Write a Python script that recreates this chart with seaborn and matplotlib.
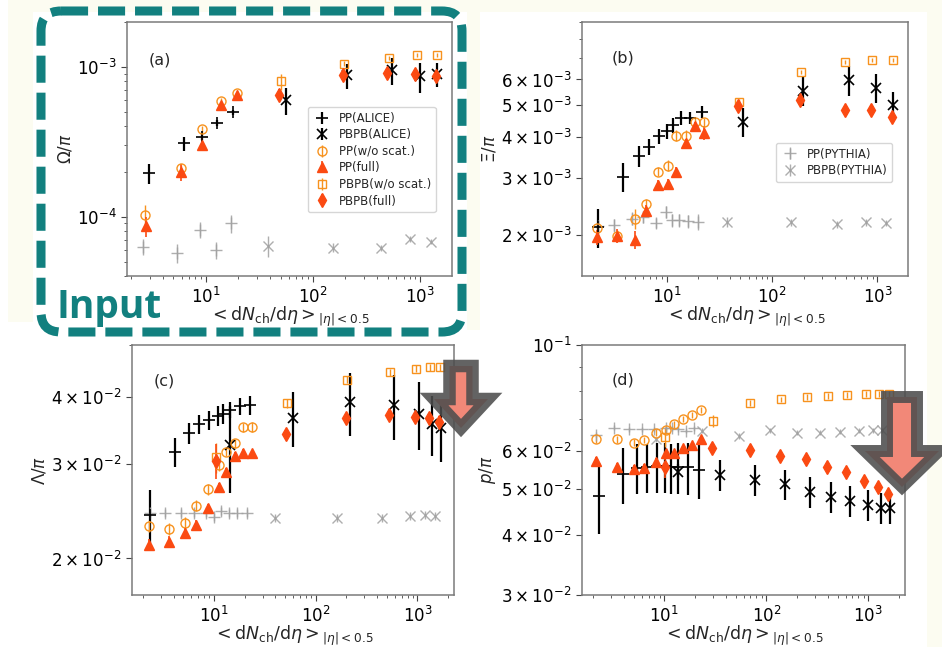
import numpy as np
import matplotlib
matplotlib.use("Agg")
import matplotlib.pyplot as plt
import seaborn as sns
from matplotlib.ticker import NullFormatter
from matplotlib.patches import FancyBboxPatch, Polygon, Rectangle

# each point: (<dNch/deta>, ratio to pion, error)
A_PP_ALICE = [(2.98, 1.94e-4, 0.30e-4), (6.27, 3.08e-4, 0.32e-4), (9.3, 3.41e-4, 0.14e-4),
              (12.8, 4.23e-4, 0.20e-4), (18.0, 4.99e-4, 0.20e-4)]
A_PBPB_ALICE = [(55.6, 6.0e-4, 1.2e-4), (206, 8.8e-4, 1.7e-4), (547, 9.5e-4, 1.9e-4),
                (1000, 8.67e-4, 2.0e-4), (1425, 9.0e-4, 1.7e-4)]
A_PP_NOSCAT = [(2.74, 1.03e-4, 0.17e-4), (5.88, 2.1e-4, 0.12e-4), (9.3, 3.82e-4, 0.2e-4),
               (14.0, 5.9e-4, 0.3e-4), (19.6, 6.7e-4, 0.3e-4)]
A_PP_FULL = [(2.77, 8.6e-5, 1.3e-5), (5.88, 2.0e-4, 0.26e-4), (9.3, 3.03e-4, 0.3e-4),
             (14.0, 5.55e-4, 0.3e-4), (19.6, 6.54e-4, 0.3e-4)]
A_PBPB_NOSCAT = [(49.9, 8.0e-4, 1.0e-4), (194, 1.05e-3, 0.4e-4), (507, 1.15e-3, 0.4e-4),
                 (925, 1.2e-3, 0.4e-4), (1425, 1.21e-3, 0.4e-4)]
A_PBPB_FULL = [(48.2, 6.5e-4, 0.6e-4), (192, 8.8e-4, 0.4e-4), (492, 9.1e-4, 0.4e-4),
               (891, 8.93e-4, 0.4e-4), (1397, 8.67e-4, 0.4e-4)]
A_PP_PYTHIA = [(2.6, 6.3e-5, 0.8e-5), (5.43, 5.7e-5, 0.8e-5), (8.8, 8.15e-5, 1.0e-5),
               (12.4, 6.0e-5, 0.8e-5), (17.1, 9.0e-5, 1.2e-5)]
A_PBPB_PYTHIA = [(38.5, 6.37e-5, 1.0e-5), (155, 6.2e-5, 0.4e-5), (428, 6.15e-5, 0.3e-5),
                 (809, 7.06e-5, 0.3e-5), (1253, 6.8e-5, 0.3e-5)]

B_PP_ALICE = [(2.22, 2.12e-3, 0.29e-3), (3.88, 3.02e-3, 0.30e-3), (5.47, 3.49e-3, 0.25e-3),
              (6.75, 3.73e-3, 0.20e-3), (8.45, 4.02e-3, 0.21e-3), (10.1, 4.17e-3, 0.22e-3),
              (11.6, 4.34e-3, 0.23e-3), (13.6, 4.58e-3, 0.22e-3), (16.6, 4.58e-3, 0.19e-3),
              (21.5, 4.77e-3, 0.20e-3)]
B_PBPB_ALICE = [(53.4, 4.45e-3, 0.46e-3), (197, 5.54e-3, 0.57e-3), (535, 5.97e-3, 0.62e-3),
                (964, 5.66e-3, 0.59e-3), (1410, 5.0e-3, 0.49e-3)]
B_PP_NOSCAT = [(2.17, 2.1e-3, 0.08e-3), (3.43, 1.99e-3, 0.08e-3), (5.0, 2.25e-3, 0.16e-3),
               (6.46, 2.49e-3, 0.1e-3), (8.3, 3.13e-3, 0.1e-3), (10.4, 3.27e-3, 0.12e-3),
               (12.4, 4.04e-3, 0.15e-3), (15.2, 4.04e-3, 0.15e-3), (18.6, 4.45e-3, 0.12e-3),
               (22.6, 4.43e-3, 0.15e-3)]
B_PP_FULL = [(2.17, 1.97e-3, 0.1e-3), (3.43, 1.99e-3, 0.1e-3), (5.0, 1.94e-3, 0.12e-3),
             (6.46, 2.37e-3, 0.1e-3), (8.3, 2.86e-3, 0.1e-3), (10.4, 2.87e-3, 0.1e-3),
             (12.4, 3.13e-3, 0.1e-3), (15.2, 3.82e-3, 0.12e-3), (18.6, 4.31e-3, 0.12e-3),
             (22.6, 4.11e-3, 0.2e-3)]
B_PBPB_NOSCAT = [(48.9, 5.11e-3, 0.12e-3), (190, 6.33e-3, 0.1e-3), (498, 6.79e-3, 0.1e-3),
                 (898, 6.88e-3, 0.1e-3), (1406, 6.9e-3, 0.1e-3)]
B_PBPB_FULL = [(47.8, 4.96e-3, 0.15e-3), (186, 5.2e-3, 0.12e-3), (490, 4.85e-3, 0.1e-3),
               (877, 4.83e-3, 0.1e-3), (1377, 4.6e-3, 0.1e-3)]
B_PP_PYTHIA = [(2.25, 2.13e-3, 0.1e-3), (3.17, 2.15e-3, 0.1e-3), (4.66, 2.25e-3, 0.1e-3),
               (6.01, 2.28e-3, 0.1e-3), (8.03, 2.18e-3, 0.08e-3), (9.86, 2.36e-3, 0.1e-3),
               (11.3, 2.22e-3, 0.1e-3), (13.2, 2.22e-3, 0.1e-3), (16.0, 2.21e-3, 0.1e-3),
               (19.7, 2.2e-3, 0.13e-3)]
B_PBPB_PYTHIA = [(37.6, 2.2e-3, 0.08e-3), (150, 2.19e-3, 0.05e-3), (418, 2.16e-3, 0.05e-3),
                 (787, 2.19e-3, 0.05e-3), (1216, 2.18e-3, 0.05e-3)]

C_PP_ALICE = [(2.33, 2.41e-2, 0.27e-2), (4.17, 3.16e-2, 0.20e-2), (5.63, 3.42e-2, 0.15e-2),
              (7.18, 3.56e-2, 0.15e-2), (8.87, 3.62e-2, 0.15e-2), (10.9, 3.69e-2, 0.16e-2),
              (12.3, 3.72e-2, 0.16e-2), (14.5, 3.78e-2, 0.13e-2), (17.8, 3.85e-2, 0.14e-2),
              (22.7, 3.86e-2, 0.15e-2)]
C_PBPB_ALICE = [(14.3, 3.25e-2, 0.6e-2), (59.4, 3.66e-2, 0.43e-2), (219, 3.91e-2, 0.53e-2),
                (585, 3.86e-2, 0.53e-2), (1031, 3.72e-2, 0.54e-2), (1394, 3.56e-2, 0.46e-2),
                (1722, 3.5e-2, 0.47e-2)]
C_PP_NOSCAT = [(2.27, 2.30e-2, 0.06e-2), (3.58, 2.27e-2, 0.06e-2), (5.22, 2.33e-2, 0.06e-2),
               (6.7, 2.51e-2, 0.06e-2), (8.73, 2.69e-2, 0.06e-2), (11.1, 2.99e-2, 0.08e-2),
               (13.1, 3.16e-2, 0.06e-2), (16.0, 3.28e-2, 0.06e-2), (19.1, 3.51e-2, 0.07e-2),
               (23.7, 3.52e-2, 0.08e-2)]
C_PP_FULL = [(2.27, 2.12e-2, 0.05e-2), (3.58, 2.15e-2, 0.05e-2), (5.22, 2.23e-2, 0.05e-2),
             (6.7, 2.31e-2, 0.05e-2), (8.73, 2.48e-2, 0.05e-2), (11.1, 2.72e-2, 0.05e-2),
             (13.1, 2.9e-2, 0.05e-2), (16.0, 3.11e-2, 0.05e-2), (19.1, 3.15e-2, 0.05e-2),
             (23.7, 3.14e-2, 0.05e-2)]
C_PBPB_NOSCAT = [(10.5, 3.09e-2, 0.2e-2), (52.3, 3.89e-2, 0.07e-2), (203, 4.31e-2, 0.07e-2),
                 (542, 4.45e-2, 0.07e-2), (977, 4.52e-2, 0.07e-2), (1321, 4.54e-2, 0.07e-2),
                 (1683, 4.54e-2, 0.07e-2)]
C_PBPB_FULL = [(10.5, 3.04e-2, 0.23e-2), (51.0, 3.41e-2, 0.08e-2), (199, 3.65e-2, 0.08e-2),
               (531, 3.71e-2, 0.08e-2), (955, 3.67e-2, 0.08e-2), (1312, 3.66e-2, 0.08e-2),
               (1644, 3.6e-2, 0.08e-2)]
C_PP_PYTHIA = [(2.36, 2.43e-2, 0.04e-2), (3.32, 2.43e-2, 0.04e-2), (4.77, 2.43e-2, 0.04e-2),
               (6.41, 2.43e-2, 0.04e-2), (8.34, 2.43e-2, 0.04e-2), (9.93, 2.39e-2, 0.04e-2),
               (11.7, 2.45e-2, 0.04e-2), (13.9, 2.43e-2, 0.04e-2), (16.8, 2.43e-2, 0.04e-2),
               (21.1, 2.43e-2, 0.04e-2)]
C_PBPB_PYTHIA = [(40.1, 2.38e-2, 0.04e-2), (162, 2.38e-2, 0.04e-2), (449, 2.38e-2, 0.04e-2),
                 (853, 2.4e-2, 0.04e-2), (1180, 2.41e-2, 0.04e-2), (1480, 2.4e-2, 0.04e-2)]

D_PP_ALICE = [(2.28, 4.84e-2, 0.82e-2), (3.95, 5.37e-2, 0.73e-2), (5.42, 5.54e-2, 0.67e-2),
              (6.7, 5.55e-2, 0.65e-2), (8.4, 5.58e-2, 0.67e-2), (10.2, 5.58e-2, 0.67e-2),
              (11.6, 5.55e-2, 0.66e-2), (13.7, 5.55e-2, 0.68e-2), (17.2, 5.55e-2, 0.7e-2),
              (21.9, 5.48e-2, 0.72e-2)]
D_PBPB_ALICE = [(13.7, 5.43e-2, 0.2e-2), (35.3, 5.35e-2, 0.4e-2), (78, 5.23e-2, 0.39e-2),
                (151, 5.11e-2, 0.38e-2), (267, 4.93e-2, 0.37e-2), (432, 4.82e-2, 0.36e-2),
                (660, 4.72e-2, 0.35e-2), (993, 4.63e-2, 0.34e-2), (1322, 4.56e-2, 0.34e-2),
                (1633, 4.56e-2, 0.34e-2)]
D_PP_NOSCAT = [(2.16, 6.35e-2, 0.1e-2), (3.45, 6.35e-2, 0.1e-2), (5.03, 6.25e-2, 0.1e-2),
               (6.36, 6.33e-2, 0.1e-2), (8.28, 6.56e-2, 0.1e-2), (10.5, 6.64e-2, 0.1e-2),
               (12.5, 6.82e-2, 0.1e-2), (15.1, 7.0e-2, 0.1e-2), (18.6, 7.14e-2, 0.1e-2),
               (22.8, 7.31e-2, 0.1e-2)]
D_PP_FULL = [(2.16, 5.72e-2, 0.1e-2), (3.45, 5.57e-2, 0.1e-2), (5.03, 5.5e-2, 0.1e-2),
             (6.36, 5.54e-2, 0.1e-2), (8.28, 5.69e-2, 0.1e-2), (10.5, 5.94e-2, 0.1e-2),
             (12.5, 5.94e-2, 0.1e-2), (15.1, 6.09e-2, 0.1e-2), (18.6, 6.18e-2, 0.1e-2),
             (22.8, 6.35e-2, 0.1e-2)]
D_PBPB_NOSCAT = [(10.2, 6.43e-2, 0.3e-2), (29.9, 6.95e-2, 0.2e-2), (69.6, 7.57e-2, 0.1e-2),
                 (139, 7.7e-2, 0.1e-2), (251, 7.78e-2, 0.1e-2), (404, 7.82e-2, 0.1e-2),
                 (621, 7.86e-2, 0.1e-2), (941, 7.9e-2, 0.1e-2), (1274, 7.9e-2, 0.1e-2),
                 (1596, 7.9e-2, 0.1e-2)]
D_PBPB_FULL = [(10.2, 5.57e-2, 0.3e-2), (29.2, 6.08e-2, 0.1e-2), (68.6, 6.03e-2, 0.1e-2),
               (137, 5.86e-2, 0.1e-2), (247, 5.77e-2, 0.1e-2), (395, 5.57e-2, 0.1e-2),
               (608, 5.43e-2, 0.1e-2), (906, 5.2e-2, 0.1e-2), (1254, 5.04e-2, 0.1e-2),
               (1574, 4.89e-2, 0.1e-2)]
D_PP_PYTHIA = [(2.16, 6.49e-2, 0.08e-2), (3.2, 6.72e-2, 0.08e-2), (4.53, 6.67e-2, 0.08e-2),
               (6.08, 6.67e-2, 0.08e-2), (7.91, 6.67e-2, 0.08e-2), (10.3, 6.7e-2, 0.08e-2),
               (11.8, 6.7e-2, 0.08e-2), (13.7, 6.67e-2, 0.08e-2), (16.2, 6.62e-2, 0.08e-2),
               (19.7, 6.7e-2, 0.08e-2)]
D_PBPB_PYTHIA = [(8.22, 6.35e-2, 0.08e-2), (23.3, 6.62e-2, 0.08e-2), (53.5, 6.45e-2, 0.08e-2),
                 (109, 6.64e-2, 0.08e-2), (200, 6.56e-2, 0.08e-2), (335, 6.56e-2, 0.08e-2),
                 (526, 6.59e-2, 0.08e-2), (809, 6.61e-2, 0.08e-2), (1119, 6.64e-2, 0.08e-2),
                 (1374, 6.64e-2, 0.08e-2)]

LABELS = {"pp_pythia": "PP(PYTHIA)", "pbpb_pythia": "PBPB(PYTHIA)",
          "pp_alice": "PP(ALICE)", "pbpb_alice": "PBPB(ALICE)",
          "pp_noscat": "PP(w/o scat.)", "pp_full": "PP(full)",
          "pbpb_noscat": "PBPB(w/o scat.)", "pbpb_full": "PBPB(full)"}

ORANGE = "#f7921e"
RED = "#fb4a12"
GREY = "#a0a0a0"
STYLE = {
    "pp_pythia": dict(fmt="+", color=GREY, ms=9, mew=1.0, elinewidth=1.0, alpha=0.85),
    "pbpb_pythia": dict(fmt="x", color=GREY, ms=6.5, mew=1.0, elinewidth=1.0, alpha=0.85),
    "pp_alice": dict(fmt="+", color="black", ms=9, mew=1.2, elinewidth=1.6),
    "pbpb_alice": dict(fmt="x", color="black", ms=6.5, mew=1.2, elinewidth=1.6),
    "pp_noscat": dict(fmt="o", color=ORANGE, mfc="none", ms=6.5, mew=1.0, elinewidth=1.0),
    "pbpb_noscat": dict(fmt="s", color=ORANGE, mfc="none", ms=6, mew=1.0, elinewidth=1.0),
    "pp_full": dict(fmt="^", color=RED, ms=6.5, elinewidth=1.2),
    "pbpb_full": dict(fmt="d", color=RED, ms=7, elinewidth=1.2),
}

sns.set_style("ticks")
plt.rcParams["font.family"] = ["DejaVu Sans"]
plt.rcParams["mathtext.fontset"] = "dejavusans"

fig = plt.figure(figsize=(9.42, 6.47), dpi=100)
W, H = 942.0, 647.0


def add_panel(box):
    l, t, r, b = box
    return fig.add_axes([l / W, 1 - b / H, (r - l) / W, (b - t) / H])


def draw(ax, series):
    handles = {}
    for key, pts in series.items():
        x, y, e = np.array(pts).T
        handles[key] = ax.errorbar(x, y, yerr=e, label=LABELS[key], capsize=0, **STYLE[key])
    return handles


def style_axes(ax, xlim, ylim, ylabel, tag):
    ax.set_xscale("log")
    ax.set_yscale("log")
    ax.set_xlim(*xlim)
    ax.set_ylim(*ylim)
    for s in ax.spines.values():
        s.set_color("#7a7a7a")
        s.set_linewidth(1.1)
    ax.tick_params(which="both", direction="out", colors="#444444", labelcolor="black", labelsize=12)
    ax.tick_params(which="major", length=4)
    ax.tick_params(which="minor", length=2.5)
    ax.set_xlabel(r"$<\mathrm{d}N_{\mathrm{ch}}/\mathrm{d}\eta>_{|\eta|<0.5}$", fontsize=12.5, labelpad=-1)
    ax.set_ylabel(ylabel, fontsize=12, labelpad=2)
    ax.text(tag[1], tag[2], tag[0], transform=ax.transAxes, fontsize=11.5, va="center")


def set_log_labels(ax, ticks, labels):
    ax.set_yticks(ticks, labels=labels)
    ax.yaxis.set_minor_formatter(NullFormatter())


def panel_series(pp_py, pb_py, pp_al, pb_al, pp_ns, pp_fu, pb_ns, pb_fu):
    return {"pp_pythia": pp_py, "pbpb_pythia": pb_py, "pp_alice": pp_al, "pbpb_alice": pb_al,
            "pp_noscat": pp_ns, "pp_full": pp_fu, "pbpb_noscat": pb_ns, "pbpb_full": pb_fu}


# (a) Omega
ax_a = add_panel((127, 22, 452, 276))
ha = draw(ax_a, panel_series(A_PP_PYTHIA, A_PBPB_PYTHIA, A_PP_ALICE, A_PBPB_ALICE,
                             A_PP_NOSCAT, A_PP_FULL, A_PBPB_NOSCAT, A_PBPB_FULL))
style_axes(ax_a, (1.85, 1980), (4.0e-5, 2.0e-3), r"$\Omega/\pi$", ("(a)", 0.065, 0.85))
keys_a = ["pp_alice", "pbpb_alice", "pp_noscat", "pp_full", "pbpb_noscat", "pbpb_full"]
ax_a.legend([ha[k] for k in keys_a], [LABELS[k] for k in keys_a], loc="upper right",
            bbox_to_anchor=(0.95, 0.665), borderaxespad=0, fontsize=8.5, labelspacing=0.3,
            handletextpad=0.6, handlelength=1.6)

# (b) Xi
ax_b = add_panel((582, 22, 908, 276))
hb = draw(ax_b, panel_series(B_PP_PYTHIA, B_PBPB_PYTHIA, B_PP_ALICE, B_PBPB_ALICE,
                             B_PP_NOSCAT, B_PP_FULL, B_PBPB_NOSCAT, B_PBPB_FULL))
style_axes(ax_b, (1.58, 1950), (1.5e-3, 9.0e-3), r"$\Xi/\pi$", ("(b)", 0.092, 0.86))
set_log_labels(ax_b, [2e-3, 3e-3, 4e-3, 5e-3, 6e-3],
               [r"$2\times10^{-3}$", r"$3\times10^{-3}$", r"$4\times10^{-3}$",
                r"$5\times10^{-3}$", r"$6\times10^{-3}$"])
keys_b = ["pp_pythia", "pbpb_pythia"]
ax_b.legend([hb[k] for k in keys_b], [LABELS[k] for k in keys_b], loc="upper right",
            bbox_to_anchor=(0.951, 0.524), borderaxespad=0, fontsize=8.5, labelspacing=0.3,
            handletextpad=0.6, handlelength=1.6)

# (c) Lambda
ax_c = add_panel((132, 345, 454, 595))
draw(ax_c, panel_series(C_PP_PYTHIA, C_PBPB_PYTHIA, C_PP_ALICE, C_PBPB_ALICE,
                        C_PP_NOSCAT, C_PP_FULL, C_PBPB_NOSCAT, C_PBPB_FULL))
style_axes(ax_c, (1.56, 2290), (1.71e-2, 5.0e-2), r"$\Lambda/\pi$", ("(c)", 0.068, 0.856))
set_log_labels(ax_c, [2e-2, 3e-2, 4e-2],
               [r"$2\times10^{-2}$", r"$3\times10^{-2}$", r"$4\times10^{-2}$"])

# (d) proton
ax_d = add_panel((582, 345, 905, 595))
draw(ax_d, panel_series(D_PP_PYTHIA, D_PBPB_PYTHIA, D_PP_ALICE, D_PBPB_ALICE,
                        D_PP_NOSCAT, D_PP_FULL, D_PBPB_NOSCAT, D_PBPB_FULL))
style_axes(ax_d, (1.56, 2290), (3.0e-2, 1.0e-1), r"$p/\pi$", ("(d)", 0.093, 0.86))
set_log_labels(ax_d, [3e-2, 4e-2, 5e-2, 6e-2, 1e-1],
               [r"$3\times10^{-2}$", r"$4\times10^{-2}$", r"$5\times10^{-2}$",
                r"$6\times10^{-2}$", r"$10^{-1}$"])

# slide background and annotations, in pixel coordinates
bg = fig.add_axes([0, 0, 1, 1], zorder=-5)
bg.set_xlim(0, W)
bg.set_ylim(H, 0)
bg.axis("off")
cream = "#fcfcf1"
for r in [(8, 0, 934, 12), (8, 0, 25, 322), (467, 0, 13, 330), (927, 0, 15, 647)]:
    bg.add_patch(Rectangle((r[0], r[1]), r[2], r[3], color=cream, lw=0))

ov = fig.add_axes([0, 0, 1, 1], zorder=10)
ov.set_xlim(0, W)
ov.set_ylim(H, 0)
ov.axis("off")
teal = "#12807f"
ov.add_patch(FancyBboxPatch((41, 11), 421, 321, boxstyle="round,pad=0,rounding_size=20",
                            fill=False, ec=teal, lw=6.5, ls=(0, (3.0, 1.1))))
ov.text(57, 318, "Input", color=teal, fontsize=28, fontweight="bold",
        family=["Open Sans", "DejaVu Sans"], va="baseline")


def down_arrow(cx, top, base, tip, shaft_hw, head_hw, lw):
    pts = [(cx - shaft_hw, top), (cx + shaft_hw, top), (cx + shaft_hw, base), (cx + head_hw, base),
           (cx, tip), (cx - head_hw, base), (cx - shaft_hw, base)]
    ov.add_patch(Polygon(pts, closed=True, fc="#f28878", ec=(0.3, 0.3, 0.3, 0.88), lw=lw,
                         joinstyle="miter"))


down_arrow(461, 366, 399, 428, 11.5, 27, 9.0)
down_arrow(902, 397, 451, 487, 15, 37, 8.6)

fig.savefig("out.png", dpi=100)
